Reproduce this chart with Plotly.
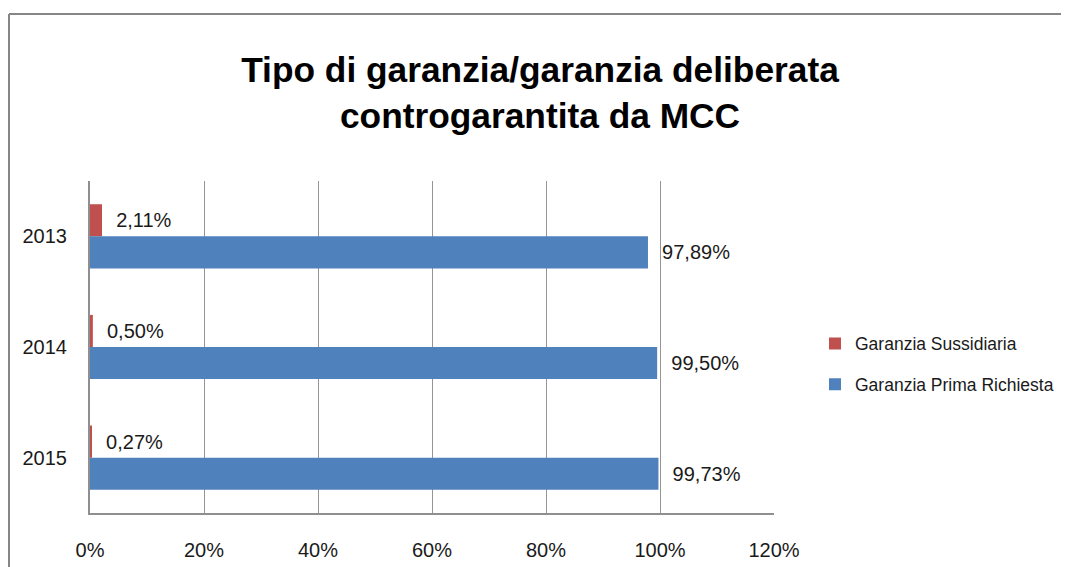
import plotly.graph_objects as go

years = ["2013", "2014", "2015"]
sussidiaria = [2.11, 0.50, 0.27]
prima_richiesta = [97.89, 99.50, 99.73]
x_ticks = [0, 20, 40, 60, 80, 100, 120]
x_tick_labels = ["0%", "20%", "40%", "60%", "80%", "100%", "120%"]

title_text = "Tipo di garanzia/garanzia deliberata<br>controgarantita da MCC"


def fmt(v):
    return "\u00a0\u00a0" + f"{v:.2f}".replace(".", ",") + "%"


LABEL_FONT = dict(family="Liberation Sans, Arial, sans-serif", size=20, color="#1a1a1a")

fig = go.Figure()
fig.add_trace(go.Bar(
    y=years, x=sussidiaria, orientation="h", name="Garanzia Sussidiaria",
    marker=dict(color="#C0504D", line=dict(width=0)),
    text=[fmt(v) for v in sussidiaria], textposition="outside",
    textfont=LABEL_FONT, cliponaxis=False, legendgroup="a",
))
fig.add_trace(go.Bar(
    y=years, x=prima_richiesta, orientation="h", name="Garanzia Prima Richiesta",
    marker=dict(color="#4F81BD", line=dict(width=0)),
    text=[fmt(v) for v in prima_richiesta], textposition="outside",
    textfont=LABEL_FONT, cliponaxis=False, legendgroup="b",
))

# page body has an 8px margin; positions below are in window pixels minus that offset
OFF = 8
W, H = 1069, 567
L, T = 90 - OFF, 181 - OFF
R = W - (774 - OFF)
B = H - (513 - OFF)
pw = W - L - R
ph = H - T - B


def px_x(px):
    return (px - OFF - L) / pw


def px_y(py):
    return (H - B - (py - OFF)) / ph


border = dict(color="#868686", width=2)
fig.add_shape(type="line", xref="paper", yref="paper",
              x0=px_x(9), x1=px_x(9), y0=px_y(14), y1=px_y(620), line=border)
fig.add_shape(type="line", xref="paper", yref="paper",
              x0=px_x(9), x1=px_x(1100), y0=px_y(14), y1=px_y(14), line=border)

fig.update_layout(
    width=W, height=H,
    margin=dict(l=L, r=R, t=T, b=B, autoexpand=False),
    paper_bgcolor="white", plot_bgcolor="white",
    barmode="group", bargap=0.42, bargroupgap=0,
    title=dict(text=title_text, x=(540 - OFF) / W, xanchor="center", xref="container",
               y=1 - 74 / H, yanchor="top", yref="container",
               font=dict(family="Liberation Sans, Arial, sans-serif",
                         size=35.3, color="black", weight="bold")),
    xaxis=dict(range=[0, 120], tickvals=x_ticks, ticktext=x_tick_labels,
               showgrid=True, gridcolor="#959595", gridwidth=1,
               showline=True, linecolor="#8f8f8f", linewidth=2,
               zeroline=False, ticks="", ticklabelstandoff=18, automargin=False,
               tickfont=dict(family="Liberation Sans, Arial, sans-serif", size=20, color="#1a1a1a"),
               fixedrange=True),
    yaxis=dict(autorange="reversed", showgrid=False,
               showline=True, linecolor="#8f8f8f", linewidth=2,
               ticks="", ticklabelstandoff=17, automargin=False,
               tickfont=dict(family="Liberation Sans, Arial, sans-serif", size=20, color="#1a1a1a"),
               fixedrange=True),
    legend=dict(x=px_x(815), xanchor="left", y=px_y(364), yanchor="middle",
                traceorder="grouped", tracegroupgap=15,
                font=dict(family="Liberation Sans, Arial, sans-serif", size=17.5, color="#1a1a1a"),
                bgcolor="rgba(0,0,0,0)", borderwidth=0),
    showlegend=True,
)

fig.write_html("out.html")
